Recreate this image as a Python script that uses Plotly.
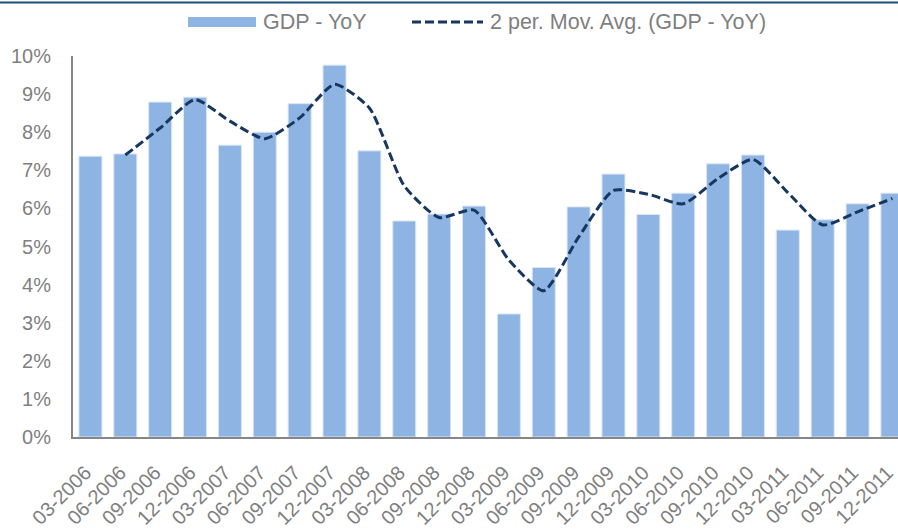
import plotly.graph_objects as go

quarters = ["03-2006", "06-2006", "09-2006", "12-2006", "03-2007", "06-2007", "09-2007", "12-2007",
            "03-2008", "06-2008", "09-2008", "12-2008", "03-2009", "06-2009", "09-2009", "12-2009",
            "03-2010", "06-2010", "09-2010", "12-2010", "03-2011", "06-2011", "09-2011", "12-2011"]
gdp_yoy = [7.37, 7.43, 8.79, 8.92, 7.66, 8.00, 8.75, 9.76,
           7.51, 5.67, 5.85, 6.06, 3.23, 4.45, 6.04, 6.90,
           5.84, 6.40, 7.17, 7.40, 5.43, 5.70, 6.12, 6.40]
y_ticks = [0, 1, 2, 3, 4, 5, 6, 7, 8, 9, 10]
y_tick_labels = [f"{v}%" for v in y_ticks]

bar_name = "GDP - YoY"
ma_name = "2 per. Mov. Avg. (GDP - YoY)"

# 2-period moving average (computed from the bar values)
ma_x = quarters[1:]
ma_y = [(gdp_yoy[i - 1] + gdp_yoy[i]) / 2 for i in range(1, len(gdp_yoy))]

FONT = "Liberation Sans, Arial, sans-serif"
GREY = "#7F7F7F"
BAR_COLOR = "#8EB4E3"
LINE_COLOR = "#17375E"
DASH = "9px,4px"

W, H = 898, 529
ML, MR, MT, MB = 73, 0, 56, 92
PW, PH = W - ML - MR, H - MT - MB


def px(x):
    return (x - ML) / PW


def py(y):
    return (H - MB - y) / PH


fig = go.Figure()
fig.add_trace(go.Bar(
    x=quarters, y=gdp_yoy, name=bar_name, showlegend=False,
    marker=dict(color=BAR_COLOR, line=dict(color="#DCE6F2", width=1)),
))
fig.add_trace(go.Scatter(
    x=ma_x, y=ma_y, name=ma_name, mode="lines", showlegend=False,
    line=dict(color=LINE_COLOR, width=3, dash=DASH, shape="spline", smoothing=0.6),
))

shapes = [
    # top border line
    dict(type="line", xref="paper", yref="paper", x0=px(0), x1=px(W),
         y0=py(2.5), y1=py(2.5), line=dict(color="#1F4E79", width=2)),
    # legend symbols
    dict(type="rect", xref="paper", yref="paper", x0=px(188), x1=px(256),
         y0=py(27), y1=py(17), fillcolor=BAR_COLOR, line=dict(width=0)),
    dict(type="line", xref="paper", yref="paper", x0=px(412), x1=px(483),
         y0=py(22), y1=py(22), line=dict(color=LINE_COLOR, width=3, dash=DASH)),
]
annotations = [
    dict(text=bar_name, xref="paper", yref="paper", x=px(261), y=py(22),
         xanchor="left", yanchor="middle", showarrow=False,
         font=dict(size=21.5, color=GREY, family=FONT)),
    dict(text=ma_name, xref="paper", yref="paper", x=px(488), y=py(22),
         xanchor="left", yanchor="middle", showarrow=False,
         font=dict(size=21.5, color=GREY, family=FONT)),
]

fig.update_layout(
    width=W, height=H,
    margin=dict(l=ML, r=MR, t=MT, b=MB, autoexpand=False),
    paper_bgcolor="white", plot_bgcolor="white",
    font=dict(family=FONT, color=GREY, size=20),
    bargap=0.34,
    showlegend=False,
    xaxis=dict(type="category", range=[-0.5, 23.16], tickangle=-45,
               showline=True, linecolor="#868686", linewidth=2,
               showgrid=False, ticks="", ticklabelstandoff=14, ticklabelshift=-5,
               tickfont=dict(size=20, color=GREY), automargin=False),
    yaxis=dict(range=[0, 10], tickvals=y_ticks, ticktext=y_tick_labels,
               showline=True, linecolor="#868686", linewidth=2,
               showgrid=False, zeroline=False, ticks="", ticklabelstandoff=16,
               tickfont=dict(size=20, color=GREY), automargin=False),
    shapes=shapes,
    annotations=annotations,
)

fig.write_html("out.html", config={"displayModeBar": False},
               post_script="document.body.style.margin='0px';document.body.style.overflow='hidden';")
